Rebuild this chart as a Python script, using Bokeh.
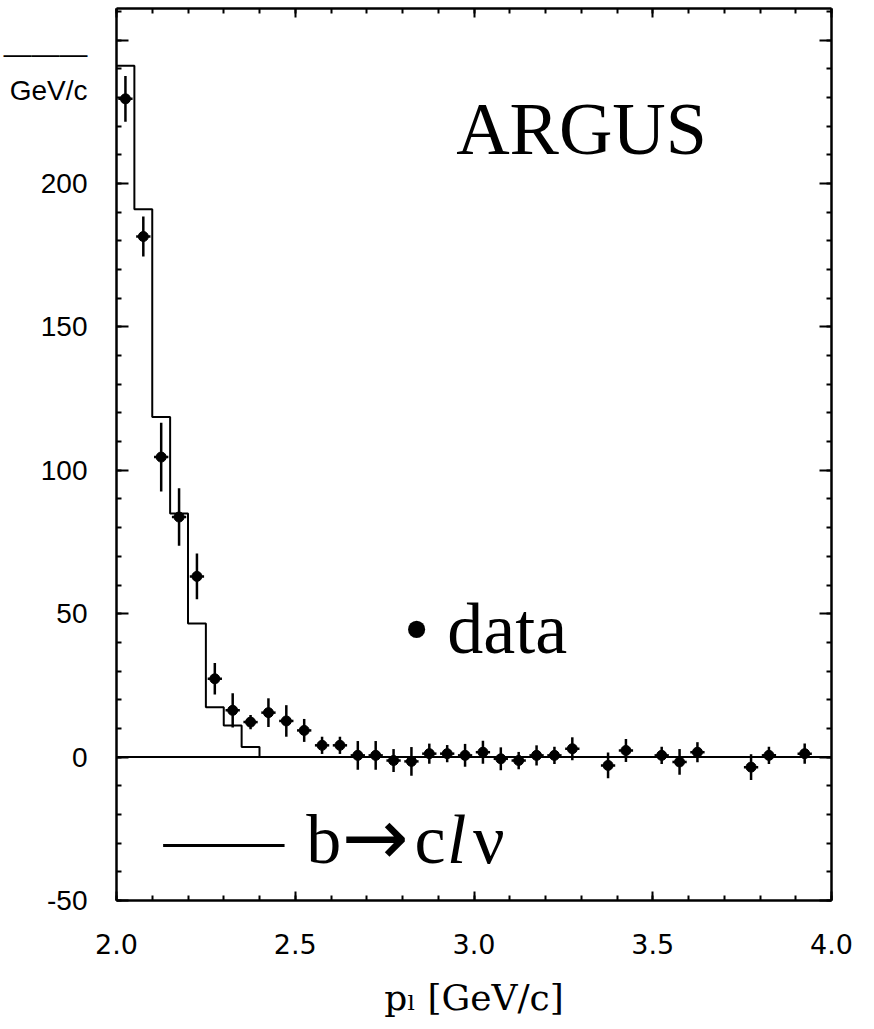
from bokeh.plotting import figure
from bokeh.models import (Range1d, LinearAxis, FixedTicker, Label, Span)
from bokeh.embed import file_html
from bokeh.resources import INLINE

# Lepton momentum spectrum (ARGUS), 50 MeV/c bins
p_centers = [2.025, 2.075, 2.125, 2.175, 2.225, 2.275, 2.325, 2.375, 2.425, 2.475,
             2.525, 2.575, 2.625, 2.675, 2.725, 2.775, 2.825, 2.875, 2.925, 2.975,
             3.025, 3.075, 3.125, 3.175, 3.225, 3.275, 3.375, 3.425, 3.525, 3.575,
             3.625, 3.775, 3.825, 3.925]
counts = [229.5, 181.5, 104.6, 83.7, 63.0, 27.3, 16.3, 12.2, 15.5, 12.6,
          9.3, 4.1, 4.1, 0.6, 0.6, -1.2, -1.5, 1.2, 1.2, 0.6,
          1.7, -0.6, -1.2, 0.6, 0.6, 2.9, -2.9, 2.3, 0.6, -1.7,
          1.7, -3.5, 0.6, 1.2]
errors = [8, 7, 12, 10, 8, 5.5, 6, 2.5, 5, 5.5,
          4, 3, 3, 5, 5, 4, 5, 3.5, 3, 4,
          4, 4, 3, 3.5, 3, 4, 4.5, 4, 3, 4.5,
          3.5, 4.5, 3, 3.5]

# b -> c l nu expectation (histogram)
mc_edges = [2.00, 2.05, 2.10, 2.15, 2.20, 2.25, 2.30, 2.35, 2.40]
mc_values = [241, 191, 118.6, 84.9, 46.6, 17.4, 11.0, 3.5]

x_ticks = [2.0, 2.5, 3.0, 3.5, 4.0]
x_tick_labels = ["2.0", "2.5", "3.0", "3.5", "4.0"]
y_ticks = [-50, 0, 50, 100, 150, 200, 250]
# the top tick carries the unit of the y axis (below its fraction bar)
y_tick_labels = ["-50", "0", "50", "100", "150", "200", "\n\u2014\u2014\u2014\nGeV/c"]

p = figure(width=874, height=1029,
           x_range=Range1d(2.0, 4.0), y_range=Range1d(-50, 261),
           output_backend="svg", toolbar_location=None,
           x_axis_location=None, y_axis_location=None,
           min_border_left=115, min_border_right=43,
           min_border_top=8, min_border_bottom=129)
p.grid.visible = False
p.outline_line_color = None
p.background_fill_color = "white"
p.border_fill_color = "white"

x_minor = [round(2.0 + 0.1 * i, 2) for i in range(21)]
y_minor = list(range(-50, 261, 10))


def make_axis(ticks, minor, labels, show_labels, standoff, font, size, major_in, minor_in):
    ax = LinearAxis(ticker=FixedTicker(ticks=ticks, minor_ticks=minor))
    ax.axis_line_width = 2.5
    ax.axis_line_color = "black"
    ax.major_tick_in = major_in
    ax.major_tick_out = 0
    ax.minor_tick_in = minor_in
    ax.minor_tick_out = 0
    ax.major_tick_line_width = 2
    ax.minor_tick_line_width = 2
    ax.major_tick_line_color = "black"
    ax.minor_tick_line_color = "black"
    if show_labels:
        ax.major_label_overrides = {t: s for t, s in zip(ticks, labels)}
        ax.major_label_standoff = standoff
        ax.major_label_text_font = font
        ax.major_label_text_font_size = size
        ax.major_label_text_color = "black"
    else:
        ax.major_label_text_font_size = "0px"
        ax.major_label_standoff = 0
    return ax


x_axis = make_axis(x_ticks, x_minor, x_tick_labels, True, 33, "DejaVu Sans", "27px", 9, 5)
x_axis.axis_label = "p\u2097 [GeV/c]"
x_axis.axis_label_text_font = "DejaVu Serif"
x_axis.axis_label_text_font_style = "normal"
x_axis.axis_label_text_font_size = "36px"
x_axis.axis_label_text_color = "black"
x_axis.axis_label_standoff = 20
p.add_layout(x_axis, "below")
p.add_layout(make_axis(x_ticks, x_minor, x_tick_labels, False, 0, "", "", 9, 5), "above")
y_axis = make_axis(y_ticks, y_minor, y_tick_labels, True, 29, "Liberation Sans", "28px", 12, 5)
p.add_layout(y_axis, "left")
p.add_layout(make_axis(y_ticks, y_minor, y_tick_labels, False, 0, "", "", 12, 5), "right")

# zero line
p.add_layout(Span(location=0, dimension="width", line_color="black", line_width=2))

# histogram outline
hx, hy = [], []
for i, v in enumerate(mc_values):
    hx += [mc_edges[i], mc_edges[i + 1]]
    hy += [v, v]
hx.append(mc_edges[-1])
hy.append(0)
p.line(hx, hy, line_color="black", line_width=2)

# data points with error bars
half_bin = 0.02
p.segment(x0=p_centers, x1=p_centers,
          y0=[c - e for c, e in zip(counts, errors)],
          y1=[c + e for c, e in zip(counts, errors)],
          line_color="black", line_width=2.5)
p.segment(x0=[x - half_bin for x in p_centers], x1=[x + half_bin for x in p_centers],
          y0=counts, y1=counts, line_color="black", line_width=2.5)
p.scatter(p_centers, counts, marker="circle", size=10, fill_color="black", line_color="black")

serif = "Liberation Serif"

p.add_layout(Label(x=2.95, y=219.0, text="ARGUS", text_font=serif,
                   text_font_size="74px", text_color="black", text_baseline="alphabetic"))
p.add_layout(Label(x=2.8045, y=44.8, text="\u2022 data", text_font=serif,
                   text_font_size="72px", text_color="black", text_baseline="alphabetic"))

# legend entry for the expectation
p.segment(x0=[2.1304], x1=[2.4701], y0=[-30.8], y1=[-30.8], line_color="black", line_width=3)
p.add_layout(Label(x=2.5307, y=-28.6, text="b", text_font=serif,
                   text_font_size="70px", text_color="black", text_baseline="alphabetic"))
p.add_layout(Label(x=2.630, y=-28.0, text="\u2192", text_font="DejaVu Sans",
                   text_font_size="80px", text_color="black", text_baseline="alphabetic"))
p.add_layout(Label(x=2.8335, y=-28.6, text="c", text_font=serif,
                   text_font_size="70px", text_color="black", text_baseline="alphabetic"))
p.add_layout(Label(x=2.9246, y=-28.6, text="l", text_font=serif, text_font_style="italic",
                   text_font_size="70px", text_color="black", text_baseline="alphabetic"))
p.add_layout(Label(x=2.9972, y=-28.6, text="\u03bd", text_font=serif,
                   text_font_size="70px", text_color="black", text_baseline="alphabetic"))

open("out.html", "w").write(file_html(p, INLINE))
